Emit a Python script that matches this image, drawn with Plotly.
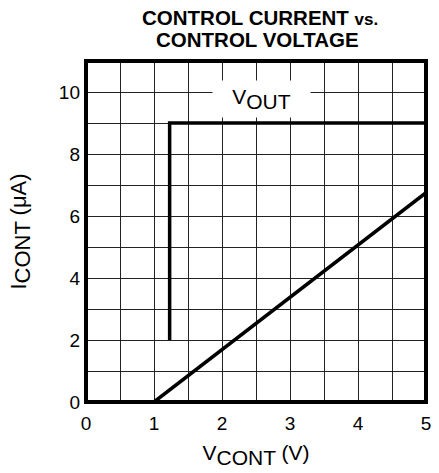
import plotly.graph_objects as go

# Data
vout_x = [1.23, 1.23, 5.0]
vout_y = [2.0, 9.0, 9.0]
icont_x = [1.0, 5.0]
icont_y = [0.0, 6.75]

x_ticks = [0, 1, 2, 3, 4, 5]
y_ticks = [0, 2, 4, 6, 8, 10]

FONT = "Arial, 'Liberation Sans', Helvetica, sans-serif"

fig = go.Figure()
fig.add_trace(go.Scatter(x=vout_x, y=vout_y, mode="lines",
                         line=dict(color="black", width=3.5), showlegend=False,
                         hoverinfo="skip"))
fig.add_trace(go.Scatter(x=icont_x, y=icont_y, mode="lines",
                         line=dict(color="black", width=3.5), showlegend=False,
                         hoverinfo="skip"))

fig.add_annotation(x=2.585, y=9.79, xref="x", yref="y",
                   text="V<sub><span style='font-size:21px'>OUT</span></sub>",
                   showarrow=False, bgcolor="white", width=95, height=34,
                   font=dict(family=FONT, size=21, color="black"))

# Title as two centred lines
fig.add_annotation(x=0.513, y=1.1276, xref="paper", yref="paper",
                   text="<b>CONTROL CURRENT <span style='font-size:17px'>vs.</span></b>",
                   showarrow=False, xanchor="center", yanchor="middle",
                   font=dict(family=FONT, size=20.5, color="black"))
fig.add_annotation(x=0.504, y=1.0645, xref="paper", yref="paper",
                   text="<b>CONTROL VOLTAGE</b>",
                   showarrow=False, xanchor="center", yanchor="middle",
                   font=dict(family=FONT, size=20.5, color="black"))

fig.add_shape(type="rect", xref="paper", yref="paper", x0=0, y0=0, x1=1, y1=1,
              line=dict(color="black", width=4), layer="above")

fig.update_layout(
    width=439, height=473,
    margin=dict(l=86, r=8, t=61, b=71),
    plot_bgcolor="white", paper_bgcolor="white",
    font=dict(family=FONT, color="black"),
    xaxis=dict(range=[0, 5], tickvals=x_ticks, ticktext=[str(v) for v in x_ticks],
               showgrid=True, gridcolor="#222", gridwidth=1.3, zeroline=False,
               minor=dict(dtick=0.5, tick0=0, showgrid=True, gridcolor="#222", gridwidth=1.3),
               tickfont=dict(size=19), ticks="", ticklabelstandoff=8,
               title=dict(text="V<sub><span style='font-size:21px'>CONT</span></sub> (V)",
                          font=dict(size=21), standoff=12)),
    yaxis=dict(range=[0, 11], tickvals=y_ticks, ticktext=[str(v) for v in y_ticks],
               showgrid=True, gridcolor="#222", gridwidth=1.3, zeroline=False,
               minor=dict(dtick=1, tick0=0, showgrid=True, gridcolor="#222", gridwidth=1.3),
               tickfont=dict(size=19), ticks="", ticklabelstandoff=5,
               title=dict(text="I<sub><span style='font-size:22px'>CONT</span></sub> (μA)",
                          font=dict(size=22), standoff=26)),
)

fig.write_html("out.html", config={"displayModeBar": False},
               post_script="document.body.style.margin='0';")
